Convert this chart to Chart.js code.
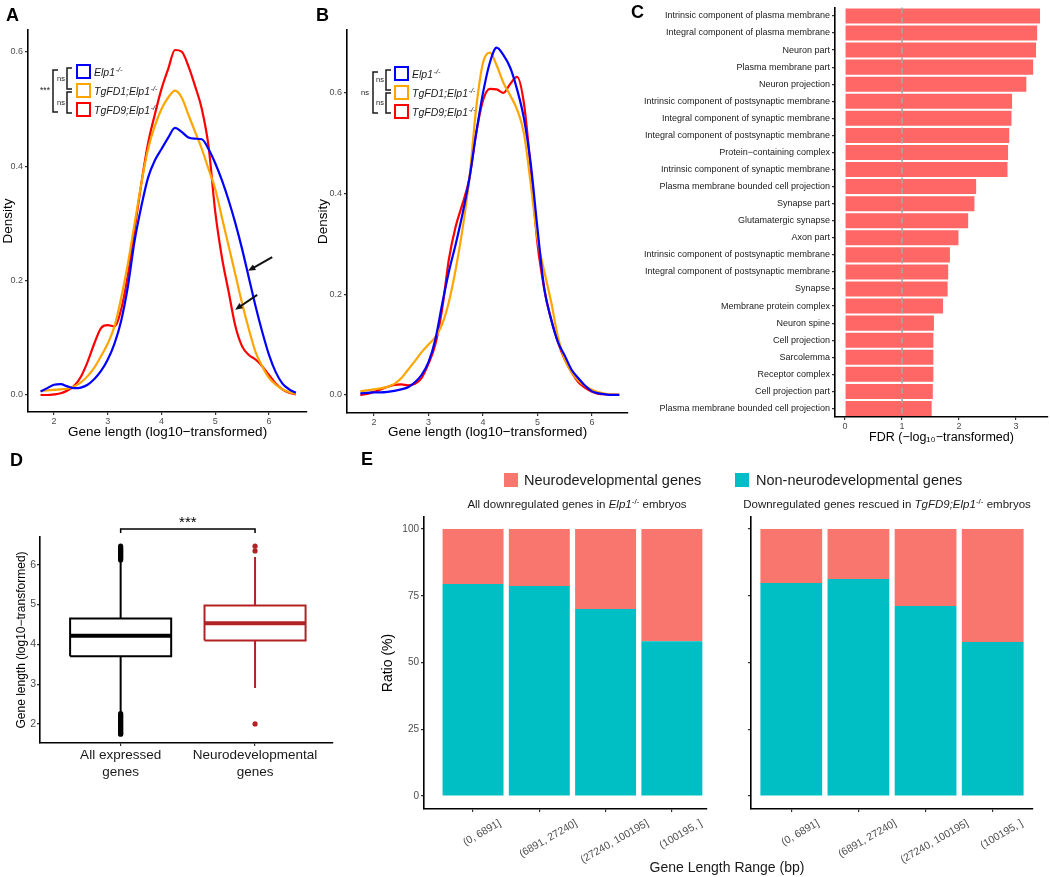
<!DOCTYPE html>
<html>
<head>
<meta charset="utf-8">
<script src="https://cdn.jsdelivr.net/npm/chart.js@4"></script>
<style>
  body { margin:0; width:1050px; height:877px; position:relative; background:#fff; overflow:hidden;
         font-family:"Liberation Sans", Arial, sans-serif; color:#1a1a1a; }
  canvas { position:absolute; }
  .lbl { position:absolute; font-weight:bold; font-size:18px; line-height:18px; color:#000; }
  .txt { position:absolute; white-space:nowrap; }
  .sq { position:absolute; width:14px; height:14px; }
  sup { font-size:70%; vertical-align:baseline; position:relative; top:-0.55em; }
</style>
</head>
<body>
<canvas id="cA" width="320" height="440" style="left:0;top:0"></canvas>
<canvas id="cB" width="328" height="440" style="left:312px;top:0"></canvas>
<canvas id="cC" width="410" height="446" style="left:640px;top:0"></canvas>
<canvas id="cD" width="340" height="360" style="left:0;top:440px"></canvas>
<canvas id="cE1" width="370" height="437" style="left:340px;top:440px"></canvas>
<canvas id="cE2" width="340" height="437" style="left:710px;top:440px"></canvas>

<div class="lbl" style="left:6px;top:6px">A</div>
<div class="lbl" style="left:316px;top:6px">B</div>
<div class="lbl" style="left:631px;top:3px">C</div>
<div class="lbl" style="left:10px;top:451px">D</div>
<div class="lbl" style="left:361px;top:450px">E</div>

<div class="sq" style="left:504px;top:473px;background:#F8766D"></div>
<div class="txt" style="left:524px;top:471px;font-size:14.5px;line-height:18px">Neurodevelopmental genes</div>
<div class="sq" style="left:735px;top:473px;background:#00BFC4"></div>
<div class="txt" style="left:756px;top:471px;font-size:14.5px;line-height:18px">Non-neurodevelopmental genes</div>
<div class="txt" style="left:427px;width:300px;text-align:center;top:496px;font-size:11.5px;line-height:16px">All downregulated genes in <i>Elp1</i><sup>-/-</sup> embryos</div>
<div class="txt" style="left:717px;width:340px;text-align:center;top:496px;font-size:11.5px;line-height:16px">Downregulated genes rescued in <i>TgFD9;Elp1</i><sup>-/-</sup> embryos</div>
<div class="txt" style="left:627px;width:200px;text-align:center;top:858px;font-size:14px;line-height:18px">Gene Length Range (bp)</div>

<script>
const FONT = '"Liberation Sans", Arial, sans-serif';
Chart.defaults.font.family = FONT;
Chart.defaults.color = '#4d4d4d';

// ---- data ----
const densityX = [1.75,1.875,2,2.125,2.25,2.375,2.5,2.625,2.75,2.875,3,3.125,3.25,3.375,3.5,3.625,3.75,3.875,4,4.125,4.25,4.375,4.5,4.625,4.75,4.875,5,5.125,5.25,5.375,5.5,5.625,5.75,5.875,6,6.125,6.25,6.375,6.5];
const genotypes = ['Elp1', 'TgFD1;Elp1', 'TgFD9;Elp1'];

// panel A: all genes
const elp1A  = [0.006,0.012,0.018,0.019,0.015,0.012,0.013,0.018,0.028,0.042,0.062,0.09,0.13,0.19,0.27,0.33,0.38,0.41,0.43,0.45,0.467,0.46,0.45,0.448,0.447,0.43,0.405,0.375,0.34,0.30,0.255,0.205,0.155,0.11,0.07,0.04,0.02,0.01,0.004];
const tgfd1A = [0.007,0.008,0.009,0.01,0.011,0.015,0.022,0.033,0.048,0.068,0.09,0.12,0.17,0.23,0.30,0.37,0.43,0.47,0.50,0.52,0.532,0.52,0.49,0.46,0.43,0.395,0.36,0.31,0.26,0.21,0.16,0.115,0.075,0.05,0.03,0.018,0.01,0.005,0.002];
const tgfd9A = [0,0,0.001,0.003,0.008,0.016,0.032,0.058,0.09,0.117,0.122,0.12,0.15,0.21,0.29,0.37,0.44,0.49,0.535,0.57,0.603,0.60,0.575,0.54,0.50,0.435,0.32,0.24,0.18,0.12,0.085,0.07,0.062,0.05,0.035,0.02,0.01,0.004,0.001];

// panel B
const elp1B  = [0.003,0.004,0.005,0.005,0.006,0.008,0.011,0.015,0.025,0.04,0.065,0.11,0.18,0.245,0.30,0.36,0.43,0.52,0.60,0.66,0.69,0.675,0.65,0.607,0.55,0.46,0.33,0.21,0.15,0.105,0.078,0.05,0.033,0.018,0.007,0.003,0.001,0,0];
const tgfd1B = [0.007,0.009,0.011,0.013,0.016,0.022,0.033,0.05,0.067,0.085,0.1,0.115,0.14,0.185,0.25,0.33,0.43,0.57,0.66,0.68,0.655,0.62,0.595,0.567,0.52,0.42,0.31,0.245,0.185,0.115,0.07,0.045,0.028,0.018,0.01,0.005,0.002,0.001,0];
const tgfd9B = [0,0.002,0.006,0.011,0.016,0.02,0.021,0.019,0.022,0.034,0.062,0.1,0.17,0.27,0.335,0.38,0.43,0.52,0.585,0.608,0.607,0.60,0.618,0.632,0.58,0.45,0.30,0.21,0.15,0.105,0.07,0.045,0.025,0.014,0.006,0.002,0.001,0,0];

// panel C: GO terms
const goTerms = [
  'Intrinsic component of plasma membrane', 'Integral component of plasma membrane', 'Neuron part',
  'Plasma membrane part', 'Neuron projection', 'Intrinsic component of postsynaptic membrane',
  'Integral component of synaptic membrane', 'Integral component of postsynaptic membrane',
  'Protein−containing complex', 'Intrinsic component of synaptic membrane',
  'Plasma membrane bounded cell projection', 'Synapse part', 'Glutamatergic synapse', 'Axon part',
  'Intrinsic component of postsynaptic membrane', 'Integral component of postsynaptic membrane',
  'Synapse', 'Membrane protein complex', 'Neuron spine', 'Cell projection', 'Sarcolemma',
  'Receptor complex', 'Cell projection part', 'Plasma membrane bounded cell projection'];
const goFdr = [3.42,3.37,3.35,3.30,3.18,2.93,2.92,2.88,2.86,2.85,2.30,2.27,2.16,1.99,1.84,1.81,1.80,1.72,1.56,1.55,1.55,1.55,1.54,1.52];

// panel D: box plot summaries
const boxGroups = [['All expressed', 'genes'], ['Neurodevelopmental', 'genes']];
const boxLow    = [2.28, 2.90];
const boxQ1     = [3.70, 4.10];
const boxMedian = [4.22, 4.53];
const boxQ3     = [4.65, 4.98];
const boxHigh   = [6.08, 6.20];
const outliersAll = [1.74,1.76,1.78,1.80,1.83,1.85,1.88,1.90,1.93,1.95,1.98,2.00,2.03,2.05,2.08,2.10,2.13,2.15,2.18,2.20,2.23,2.26,
                     6.12,6.15,6.18,6.20,6.23,6.25,6.28,6.30,6.33,6.35,6.38,6.40,6.43,6.47];
const outliersNeuro = [2.00, 6.35, 6.47];

// panel E
const lengthRanges = ['(0, 6891]', '(6891, 27240]', '(27240, 100195]', '(100195, ]'];
const nonNeuroAll     = [79.4, 78.7, 70.0, 58.0];
const neuroAll        = [20.6, 21.3, 30.0, 42.0];
const nonNeuroRescued = [79.8, 81.3, 71.2, 57.7];
const neuroRescued    = [20.2, 18.7, 28.8, 42.3];

// ---- helpers ----
const fix = size => scale => { if (scale.isHorizontal()) scale.height = size; else scale.width = size; };
const tickOnly = { drawOnChartArea: false, drawTicks: true, tickLength: 3, color: '#333', lineWidth: 1.2 };
const axisBorder = { display: true, color: '#000', width: 1.6 };
const noPlug = { legend: { display: false }, tooltip: { enabled: false } };

function supText(ctx, base, sup, x, y, size) {
  ctx.font = `italic ${size}px ${FONT}`;
  ctx.fillText(base, x, y);
  const w = ctx.measureText(base).width;
  ctx.font = `italic ${size * 0.7}px ${FONT}`;
  ctx.fillText(sup, x + w + 0.5, y - size * 0.42);
}

function bracketLegend(cfg) {
  return {
    id: 'bracketLegend',
    afterDraw(chart) {
      const ctx = chart.ctx;
      ctx.save();
      ctx.textAlign = 'left';
      ctx.textBaseline = 'alphabetic';
      genotypes.forEach((g, i) => {
        const top = cfg.boxTops[i];
        ctx.strokeStyle = cfg.colors[i];
        ctx.lineWidth = 2;
        ctx.strokeRect(cfg.boxX, top, cfg.boxSize, cfg.boxSize);
        ctx.fillStyle = '#1a1a1a';
        supText(ctx, g, '-/-', cfg.textX, top + cfg.boxSize - 2, 10.5);
      });
      ctx.strokeStyle = '#1a1a1a';
      ctx.lineWidth = 1.5;
      ctx.textAlign = 'center';
      ctx.textBaseline = 'middle';
      cfg.brackets.forEach(b => {
        ctx.beginPath();
        ctx.moveTo(b.x + 5, b.y0); ctx.lineTo(b.x, b.y0); ctx.lineTo(b.x, b.y1); ctx.lineTo(b.x + 5, b.y1);
        ctx.stroke();
        ctx.font = `${b.size}px ${FONT}`;
        ctx.fillText(b.label, b.lx, (b.y0 + b.y1) / 2);
      });
      ctx.restore();
    }
  };
}

function arrowPlugin(arrows) {
  return {
    id: 'arrows',
    afterDatasetsDraw(chart) {
      const {ctx, scales: {x, y}} = chart;
      ctx.save();
      ctx.strokeStyle = '#111'; ctx.fillStyle = '#111'; ctx.lineWidth = 2;
      arrows.forEach(a => {
        const x0 = x.getPixelForValue(a.from[0]), y0 = y.getPixelForValue(a.from[1]);
        const x1 = x.getPixelForValue(a.to[0]), y1 = y.getPixelForValue(a.to[1]);
        const ang = Math.atan2(y1 - y0, x1 - x0);
        ctx.beginPath(); ctx.moveTo(x0, y0);
        ctx.lineTo(x1 - 5 * Math.cos(ang), y1 - 5 * Math.sin(ang)); ctx.stroke();
        ctx.beginPath();
        ctx.moveTo(x1, y1);
        ctx.lineTo(x1 - 8 * Math.cos(ang - 0.4), y1 - 8 * Math.sin(ang - 0.4));
        ctx.lineTo(x1 - 8 * Math.cos(ang + 0.4), y1 - 8 * Math.sin(ang + 0.4));
        ctx.closePath(); ctx.fill();
      });
      ctx.restore();
    }
  };
}

const lineColors = ['#0000FF', '#FFA500', '#FF0000'];

function densityChart(id, series, o) {
  return new Chart(document.getElementById(id), {
    type: 'line',
    data: {
      datasets: series.map((s, i) => ({
        data: densityX.map((x, k) => ({ x, y: s[k] })),
        borderColor: lineColors[i], borderWidth: 2.2, pointRadius: 0,
        cubicInterpolationMode: 'monotone', fill: false
      }))
    },
    options: {
      responsive: false, animation: false,
      layout: { padding: o.padding },
      plugins: noPlug,
      scales: {
        x: {
          type: 'linear', min: o.xMin, max: o.xMax, afterFit: fix(o.xHeight),
          border: axisBorder, grid: tickOnly,
          ticks: { stepSize: 1, includeBounds: false, font: { size: 9 }, padding: 1, maxRotation: 0 },
          title: { display: true, text: 'Gene length (log10−transformed)', font: { size: 13.5 }, color: '#000', padding: 0 }
        },
        y: {
          min: o.yMin, max: o.yMax, afterFit: fix(o.yWidth),
          border: axisBorder, grid: tickOnly,
          ticks: { stepSize: 0.2, includeBounds: false, font: { size: 9 }, padding: 2, callback: v => v.toFixed(1) },
          title: { display: true, text: 'Density', font: { size: 13.5 }, color: '#000', padding: { top: o.yTitlePad, bottom: 0 } }
        }
      }
    },
    plugins: o.plugins
  });
}

// A
densityChart('cA', [elp1A, tgfd1A, tgfd9A], {
  padding: { top: 30, right: 13, left: 0, bottom: 0 },
  xMin: 1.516, xMax: 6.707, yMin: -0.0297, yMax: 0.638, xHeight: 28, yWidth: 28, yTitlePad: 0,
  plugins: [
    bracketLegend({
      boxX: 77, boxSize: 13, boxTops: [65, 84, 103], textX: 94, colors: lineColors,
      brackets: [
        { x: 67, y0: 68, y1: 89, label: 'ns', lx: 61, size: 7.5 },
        { x: 67, y0: 92, y1: 113, label: 'ns', lx: 61, size: 7.5 },
        { x: 53, y0: 70, y1: 112, label: '***', lx: 45, size: 8.5 }
      ]
    }),
    arrowPlugin([
      { from: [6.06, 0.241], to: [5.61, 0.217] },
      { from: [5.78, 0.175], to: [5.37, 0.149] }
    ])
  ]
});

// B
densityChart('cB', [elp1B, tgfd1B, tgfd9B], {
  padding: { top: 30, right: 12, left: 0, bottom: 0 },
  xMin: 1.505, xMax: 6.66, yMin: -0.036, yMax: 0.725, xHeight: 27, yWidth: 35, yTitlePad: 3,
  plugins: [
    bracketLegend({
      boxX: 83, boxSize: 13, boxTops: [67, 86, 105], textX: 100, colors: lineColors,
      brackets: [
        { x: 74, y0: 70, y1: 90, label: 'ns', lx: 68, size: 7.5 },
        { x: 74, y0: 93, y1: 113, label: 'ns', lx: 68, size: 7.5 },
        { x: 61, y0: 72, y1: 113, label: 'ns', lx: 53, size: 7.5 }
      ]
    })
  ]
});

// C
const dashedLine = {
  id: 'dashedLine',
  afterDatasetsDraw(chart) {
    const {ctx, chartArea, scales: {x}} = chart;
    const px = x.getPixelForValue(1);
    ctx.save();
    ctx.strokeStyle = '#a6a6a6'; ctx.lineWidth = 1.6; ctx.setLineDash([6, 4]);
    ctx.beginPath(); ctx.moveTo(px, chartArea.top); ctx.lineTo(px, chartArea.bottom); ctx.stroke();
    ctx.restore();
  }
};
new Chart(document.getElementById('cC'), {
  type: 'bar',
  data: { labels: goTerms, datasets: [{ data: goFdr, backgroundColor: '#FF6666', barPercentage: 0.88, categoryPercentage: 1 }] },
  options: {
    indexAxis: 'y', responsive: false, animation: false,
    layout: { padding: { top: 1, right: 2, left: 0, bottom: 0 } },
    plugins: noPlug,
    scales: {
      x: {
        type: 'linear', min: -0.175, max: 3.56, afterFit: fix(29),
        border: axisBorder, grid: tickOnly,
        ticks: { stepSize: 1, includeBounds: false, font: { size: 9 }, padding: 1, maxRotation: 0 },
        title: { display: true, text: 'FDR (−log₁₀−transformed)', font: { size: 12.5 }, color: '#000', padding: { top: 0, bottom: 1 } }
      },
      y: {
        afterFit: fix(195), border: axisBorder, grid: { ...tickOnly, offset: false },
        ticks: { autoSkip: false, font: { size: 9 }, color: '#1a1a1a', padding: 2 }
      }
    }
  },
  plugins: [dashedLine]
});

// D
const boxHalf = 0.376;
const boxColors = ['#000000', '#B22222'];
const boxSets = [];
boxGroups.forEach((g, i) => {
  const c = i + 1, col = boxColors[i];
  const base = { borderColor: col, pointRadius: 0, fill: false, tension: 0, spanGaps: false };
  boxSets.push({ ...base, borderWidth: 2,
    data: [{ x: c, y: boxQ3[i] }, { x: c, y: boxHigh[i] }, { x: c, y: null }, { x: c, y: boxQ1[i] }, { x: c, y: boxLow[i] }] });
  boxSets.push({ ...base, borderWidth: 2,
    data: [{ x: c - boxHalf, y: boxQ1[i] }, { x: c + boxHalf, y: boxQ1[i] }, { x: c + boxHalf, y: boxQ3[i] },
           { x: c - boxHalf, y: boxQ3[i] }, { x: c - boxHalf, y: boxQ1[i] }] });
  boxSets.push({ ...base, borderWidth: 4,
    data: [{ x: c - boxHalf, y: boxMedian[i] }, { x: c + boxHalf, y: boxMedian[i] }] });
  const outs = i === 0 ? outliersAll : outliersNeuro;
  boxSets.push({ showLine: false, pointRadius: 2.6, pointBorderWidth: 0, pointBackgroundColor: col,
    data: outs.map(v => ({ x: c, y: v })) });
});
const sigBracket = {
  id: 'sigBracket',
  afterDraw(chart) {
    const {ctx, chartArea, scales: {x}} = chart;
    const x1 = x.getPixelForValue(1), x2 = x.getPixelForValue(2), y = chartArea.top - 8;
    ctx.save();
    ctx.strokeStyle = '#000'; ctx.lineWidth = 1.5;
    ctx.beginPath(); ctx.moveTo(x1, y + 4); ctx.lineTo(x1, y); ctx.lineTo(x2, y); ctx.lineTo(x2, y + 4); ctx.stroke();
    ctx.fillStyle = '#000'; ctx.font = `15px ${FONT}`; ctx.textAlign = 'center'; ctx.textBaseline = 'alphabetic';
    ctx.fillText('***', (x1 + x2) / 2, y - 2);
    ctx.restore();
  }
};
new Chart(document.getElementById('cD'), {
  type: 'line',
  data: { datasets: boxSets },
  options: {
    responsive: false, animation: false,
    layout: { padding: { top: 97, right: 7, left: 14, bottom: 0 } },
    plugins: noPlug,
    scales: {
      x: {
        type: 'linear', min: 0.4, max: 2.58, afterFit: fix(57),
        border: axisBorder, grid: tickOnly,
        afterBuildTicks: s => { s.ticks = [{ value: 1 }, { value: 2 }]; },
        ticks: { font: { size: 13.5, lineHeight: 1.25 }, color: '#1a1a1a', padding: 1, maxRotation: 0,
                 callback: v => boxGroups[v - 1] }
      },
      y: {
        min: 1.52, max: 6.70, afterFit: fix(26),
        border: axisBorder, grid: tickOnly,
        ticks: { stepSize: 1, includeBounds: false, font: { size: 10.5 }, padding: 1 },
        title: { display: true, text: 'Gene length (log10−transformed)', font: { size: 12 }, color: '#000', padding: 0 }
      }
    }
  },
  plugins: [sigBracket]
});

// E
const rotatedLabels = {
  id: 'rotatedLabels',
  afterDraw(chart) {
    const {ctx, scales: {x}} = chart;
    const fs = 10.5, top = x.top + 9;
    ctx.save();
    ctx.font = `${fs}px ${FONT}`;
    ctx.fillStyle = '#4d4d4d';
    ctx.textAlign = 'center';
    ctx.textBaseline = 'middle';
    lengthRanges.forEach((lab, i) => {
      const w = ctx.measureText(lab).width;
      const half = (w * 0.5 + fs * 0.866) / 2;
      ctx.save();
      ctx.translate(x.getPixelForValue(i + 1) + 9, top + half);
      ctx.rotate(-Math.PI / 6);
      ctx.fillText(lab, 0, 0);
      ctx.restore();
    });
    ctx.restore();
  }
};
function stackChart(id, nonNeuro, neuro, o) {
  return new Chart(document.getElementById(id), {
    type: 'bar',
    data: {
      datasets: [
        { data: nonNeuro.map((v, i) => ({ x: i + 1, y: v })), backgroundColor: '#00BFC4' },
        { data: neuro.map((v, i) => ({ x: i + 1, y: v })), backgroundColor: '#F8766D' }
      ]
    },
    options: {
      responsive: false, animation: false,
      datasets: { bar: { barPercentage: 0.92, categoryPercentage: 1 } },
      layout: { padding: o.padding },
      plugins: noPlug,
      scales: {
        x: {
          type: 'linear', stacked: true, offset: false, min: o.xMin, max: o.xMax, afterFit: fix(68),
          border: axisBorder, grid: { ...tickOnly, offset: false },
          afterBuildTicks: s => { s.ticks = [1, 2, 3, 4].map(v => ({ value: v })); },
          ticks: { maxRotation: 0, callback: () => '' }
        },
        y: {
          stacked: true, min: -4.87, max: 104.5, afterFit: fix(o.yWidth),
          border: axisBorder, grid: tickOnly,
          ticks: { stepSize: 25, includeBounds: false, font: { size: 10 }, padding: 2,
                   callback: v => o.showY ? v : '' },
          title: { display: o.showY, text: 'Ratio (%)', font: { size: 14 }, color: '#000', padding: 0 }
        }
      }
    },
    plugins: [rotatedLabels]
  });
}
stackChart('cE1', nonNeuroAll, neuroAll, {
  padding: { top: 77, right: 3, left: 40, bottom: 0 }, xMin: 0.26, xMax: 4.53, yWidth: 44, showY: true
});
stackChart('cE2', nonNeuroRescued, neuroRescued, {
  padding: { top: 77, right: 17, left: 0, bottom: 0 }, xMin: 0.4, xMax: 4.6, yWidth: 41, showY: false
});
</script>
</body>
</html>
